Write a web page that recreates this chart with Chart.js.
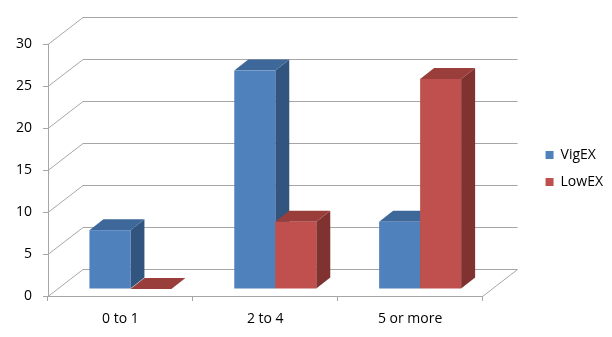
<!DOCTYPE html>
<html>
<head>
<meta charset="utf-8">
<title>VigEX vs LowEX</title>
<script src="https://cdn.jsdelivr.net/npm/chart.js@4.4.1/dist/chart.umd.min.js"></script>
<style>
    html, body { margin: 0; padding: 0; background: #fff; }
    #chart-wrap { width: 612px; height: 337px; }
</style>
</head>
<body>
<div id="chart-wrap"><canvas id="ex-chart"></canvas></div>
<script>
// --- Data ---
const categories = ['0 to 1', '2 to 4', '5 or more'];
const vigexValues = [7, 26, 8];
const lowexValues = [0, 8, 25];
const yTickMin = 0;
const yTickMax = 30;
const yTickStep = 5;

// --- 3D look (Excel style column chart) ---
const WALL_DX = 35, WALL_DY = -27;   // depth of the floor / side wall
const BAR_DX = 10, BAR_DY = -7;      // where the bars stand inside the floor
const DEPTH_DX = 14, DEPTH_DY = -11; // depth of each bar
const GRID_COLOR = '#a6a6a6';

const faceColors = [
    { front: '#4f81bd', top: '#3d6899', side: '#32557f' },
    { front: '#c0504d', top: '#9a3e3b', side: '#7f3230' }
];

function poly(ctx, pts, color) {
    ctx.beginPath();
    ctx.moveTo(pts[0][0], pts[0][1]);
    for (let i = 1; i < pts.length; i++) ctx.lineTo(pts[i][0], pts[i][1]);
    ctx.closePath();
    ctx.fillStyle = color;
    ctx.fill();
}

const threeDPlugin = {
    id: 'threeD',
    beforeDatasetsDraw(chart) {
        const ctx = chart.ctx;
        const { left, right, bottom } = chart.chartArea;
        const yScale = chart.scales.y;

        // walls: side wall diagonals and back wall gridlines
        ctx.save();
        ctx.strokeStyle = GRID_COLOR;
        ctx.lineWidth = 1;
        yScale.ticks.forEach(t => {
            const py = Math.round(yScale.getPixelForValue(t.value)) + 0.5;
            ctx.beginPath();
            ctx.moveTo(left, py);
            ctx.lineTo(left + WALL_DX, py + WALL_DY);
            ctx.lineTo(right + WALL_DX, py + WALL_DY);
            ctx.stroke();
        });
        // floor right edge
        const by = Math.round(bottom) + 0.5;
        ctx.beginPath();
        ctx.moveTo(right, by);
        ctx.lineTo(right + WALL_DX, by + WALL_DY);
        ctx.stroke();
        ctx.restore();

        // bars, category by category so the right bar covers the left bar's side
        const metas = chart.data.datasets.map((d, i) => chart.getDatasetMeta(i));
        for (let i = 0; i < categories.length; i++) {
            metas.forEach((meta, di) => {
                const bar = meta.data[i];
                if (!bar) return;
                const p = bar.getProps(['x', 'y', 'base', 'width'], true);
                const x0 = p.x - p.width / 2 + BAR_DX;
                const x1 = p.x + p.width / 2 + BAR_DX;
                const yTop = p.y + BAR_DY;
                const yBase = p.base + BAR_DY;
                const c = faceColors[di];
                poly(ctx, [[x1, yTop], [x1 + DEPTH_DX, yTop + DEPTH_DY],
                           [x1 + DEPTH_DX, yBase + DEPTH_DY], [x1, yBase]], c.side);
                poly(ctx, [[x0, yTop], [x0 + DEPTH_DX, yTop + DEPTH_DY],
                           [x1 + DEPTH_DX, yTop + DEPTH_DY], [x1, yTop]], c.top);
                if (yBase - yTop > 0.5) {
                    ctx.fillStyle = c.front;
                    ctx.fillRect(x0, yTop, x1 - x0, yBase - yTop);
                }
            });
        }
        return false; // we drew the bars ourselves
    }
};

const tickFont = { family: "'Open Sans', sans-serif", size: 14 };

const ctx = document.getElementById('ex-chart').getContext('2d');
new Chart(ctx, {
    type: 'bar',
    data: {
        labels: categories,
        datasets: [
            { label: 'VigEX', data: vigexValues, backgroundColor: faceColors[0].front, borderWidth: 0 },
            { label: 'LowEX', data: lowexValues, backgroundColor: faceColors[1].front, borderWidth: 0 }
        ]
    },
    options: {
        responsive: true,
        maintainAspectRatio: false,
        animation: false,
        layout: { padding: { left: 0, right: -1, top: 0, bottom: 0 } },
        datasets: { bar: { categoryPercentage: 0.566, barPercentage: 1.0 } },
        plugins: {
            legend: {
                position: 'right',
                align: 'center',
                labels: {
                    boxWidth: 8,
                    boxHeight: 8,
                    padding: 13,
                    color: '#000',
                    font: tickFont
                }
            },
            tooltip: { enabled: false }
        },
        scales: {
            x: {
                grid: { display: true, drawOnChartArea: false, drawTicks: true, tickLength: 5, color: GRID_COLOR, offset: true },
                border: { display: true, color: GRID_COLOR },
                ticks: { color: '#000', font: tickFont, padding: 10, maxRotation: 0 },
                afterFit: s => { s.height = 41; }
            },
            y: {
                min: yTickMin,
                max: yTickMax,
                ticks: { stepSize: yTickStep, color: '#000', font: tickFont, padding: 11 },
                grid: { display: true, drawOnChartArea: false, drawTicks: true, tickLength: 5, color: GRID_COLOR },
                border: { display: true, color: GRID_COLOR },
                afterFit: s => { s.width = 48; }
            },
            // spacers: room for the 3D walls above and to the right
            topSpace: {
                type: 'linear', axis: 'x', position: 'top', display: true,
                grid: { display: false }, border: { display: false }, ticks: { display: false },
                afterFit: s => { s.height = 44; }
            },
            rightSpace: {
                type: 'linear', axis: 'y', position: 'right', display: true,
                grid: { display: false }, border: { display: false }, ticks: { display: false },
                afterFit: s => { s.width = 50; }
            }
        }
    },
    plugins: [threeDPlugin]
});
</script>
</body>
</html>
